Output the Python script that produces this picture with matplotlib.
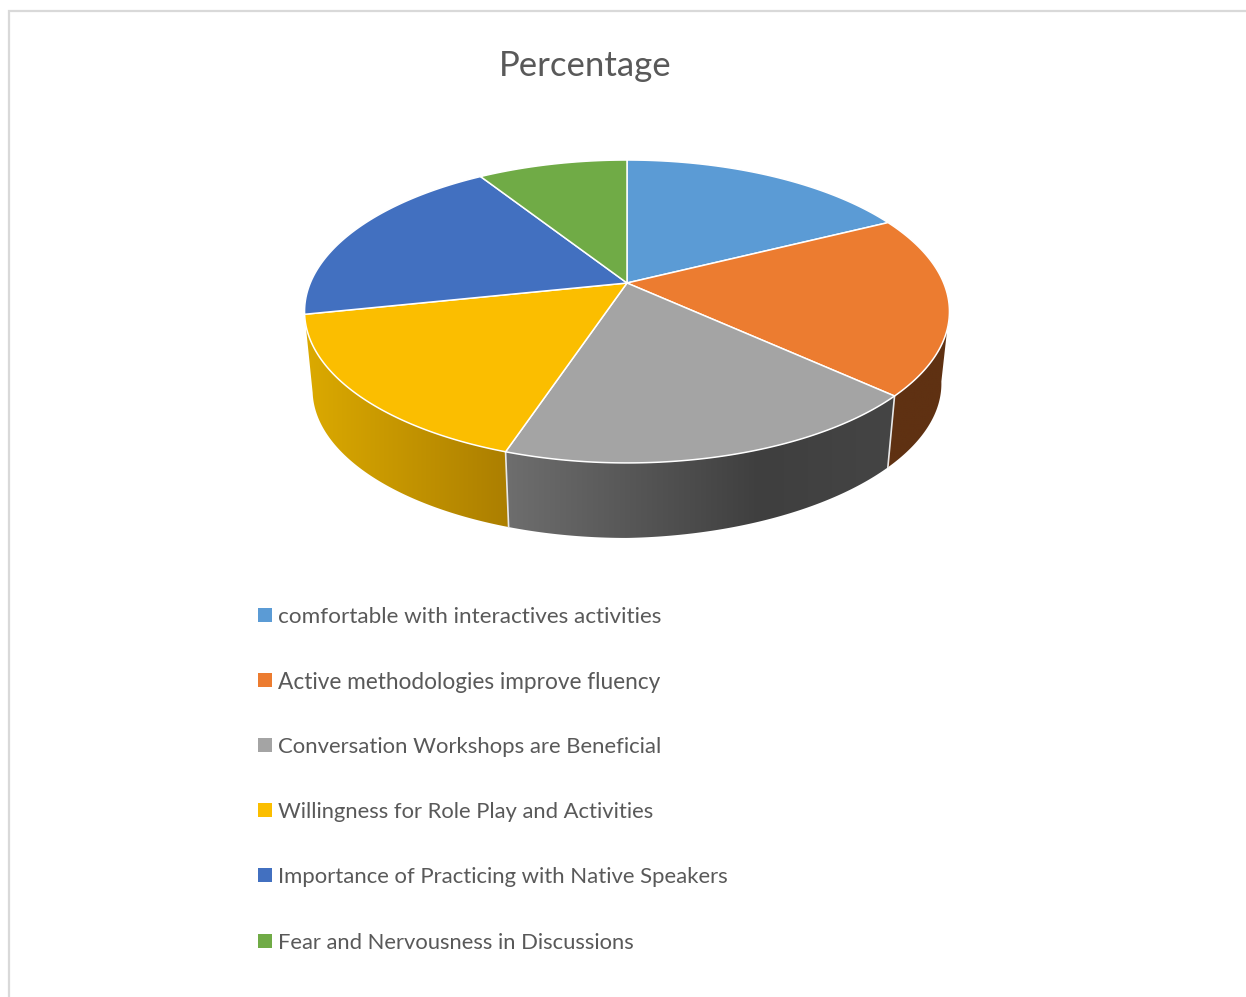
import numpy as np
import matplotlib
matplotlib.use('Agg')
import matplotlib.pyplot as plt
from matplotlib.colors import LinearSegmentedColormap
from matplotlib.patches import Polygon, Rectangle

# Data
title = 'Percentage'
labels = [
    'comfortable with interactives activities',
    'Active methodologies improve fluency',
    'Conversation Workshops are Beneficial',
    'Willingness for Role Play and Activities',
    'Importance of Practicing with Native Speakers',
    'Fear and Nervousness in Discussions',
]
values = [17.6, 19.2, 18.3, 16.6, 19.3, 9.0]
colors = ['#5B9BD5', '#EC7C30', '#A4A4A4', '#FBBE00', '#4270C0', '#70AB46']
label_sizes = [16.2, 16.3, 15.9, 15.8, 15.9, 15.8]

# Side wall shading: (x pixel, colour) stops for each slice that shows a wall
wall_shades = {
    1: ([870, 960], ['#5F3112', '#5F3112']),
    2: ([495, 760, 905], ['#707070', '#3F3F3F', '#454545']),
    3: ([295, 515], ['#DEAC00', '#AA7D00']),
}

# Perspective of the pie disc, in image pixels
cx, cy = 627, 283
b = 0.188
a = 146.1
c = 316.7


def top_point(theta):
    # theta in degrees, clockwise from 12 o'clock
    t = np.radians(theta)
    u, v = np.sin(t), np.cos(t)
    w = 1 + b * v
    return cx + c * u / w, cy - a * v / w


def bottom_point(theta):
    x, y = top_point(theta)
    xb = cx + 0.975 * (x - cx)
    yb = 390 + 0.977 * (y - 311.5) - max(0, xb - cx) * 0.02
    return xb, yb


fig = plt.figure(figsize=(12.46, 9.97), dpi=100)
ax = fig.add_axes([0, 0, 1, 1])
ax.axis('off')

# Frame of the original chart
ax.plot([9, 9, 1246], [997, 11, 11], color='#D9D9D9', lw=1.6, solid_joinstyle='miter')

bounds = np.concatenate([[0], np.cumsum(values)]) / np.sum(values) * 360

# Walls, a horizontal gradient clipped to each wall outline
for i, (xs, cols) in wall_shades.items():
    th = np.linspace(max(bounds[i], 100), min(bounds[i + 1], 262), 150)
    outline = [top_point(t) for t in th] + [bottom_point(t) for t in th[::-1]]
    x0, x1 = xs[0], xs[-1]
    stops = [(x - x0) / (x1 - x0) for x in xs]
    cmap = LinearSegmentedColormap.from_list(f'wall{i}', list(zip(stops, cols)))
    im = ax.imshow(np.linspace(0, 1, 256)[None, :], cmap=cmap, aspect='auto',
                   extent=(x0, x1, 560, 300), zorder=2, interpolation='bilinear')
    patch = Polygon(outline, closed=True, transform=ax.transData, fc='none', ec='none')
    ax.add_patch(patch)
    im.set_clip_path(patch)

# White seams between the walls
for i in [2, 3]:
    x0, y0 = top_point(bounds[i])
    x1, y1 = bottom_point(bounds[i])
    ax.plot([x0, x1], [y0, y1], color='#E8E8E8', lw=1.2, zorder=3)

# Top of the pie
for i, col in enumerate(colors):
    th = np.linspace(bounds[i], bounds[i + 1], 100)
    pts = [(cx, cy)] + [top_point(t) for t in th]
    ax.add_patch(Polygon(pts, closed=True, fc=col, ec='white', lw=1.1, zorder=4, joinstyle='round'))

# Title
ax.text(585, 65.5, title, ha='center', va='center', fontsize=25, color='#595959', family='Lato')

# Legend
rows = [615, 680, 745, 810, 875, 941]
for lab, col, y, size in zip(labels, colors, rows, label_sizes):
    ax.add_patch(Rectangle((258, y - 7), 14, 14, fc=col, ec='none'))
    ax.text(278, y + 2, lab, ha='left', va='center', fontsize=size, color='#595959', family='Lato')

ax.set_xlim(0, 1246)
ax.set_ylim(997, 0)

fig.savefig('out.png', dpi=100)
